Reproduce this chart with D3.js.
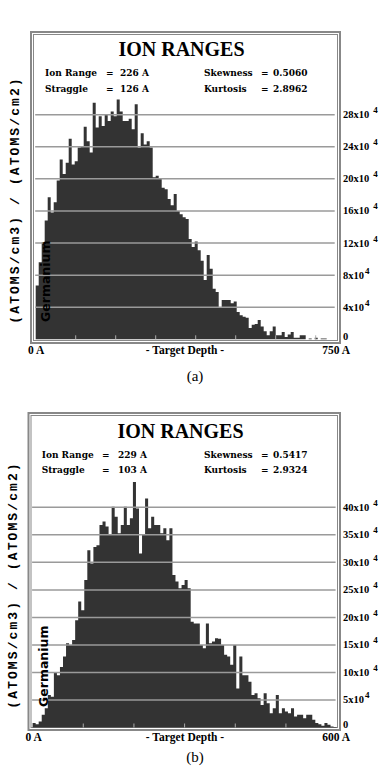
<!DOCTYPE html>
<html>
<head>
<meta charset="utf-8">
<script src="https://cdn.jsdelivr.net/npm/d3@7"></script>
<style>
  body { margin: 0; background: #fff; }
  svg { display: block; }
</style>
</head>
<body>
<div id="chart"></div>
<script>
// Ion distribution, 100 depth bins, values in units of 10^4 (ATOMS/cm3)/(ATOMS/cm2)
const countsA = [
    6.7, 9.6, 12.1, 14.8, 17.7, 15.8, 17.1, 19.8, 22.4, 20.6,
    22.0, 25.0, 21.8, 22.2, 23.9, 24.1, 26.5, 24.7, 23.3, 29.5,
    26.4, 27.8, 26.6, 28.0, 27.2, 28.4, 27.8, 29.9, 28.4, 27.2,
    27.2, 27.5, 26.2, 29.3, 23.9, 25.7, 24.3, 24.7, 23.9, 20.2,
    20.4, 20.0, 18.9, 18.7, 17.5, 16.7, 18.1, 16.0, 15.6, 15.2,
    15.0, 12.5, 11.5, 12.2, 11.1, 9.8, 7.4, 10.5, 8.8, 6.3,
    5.9, 4.0, 4.9, 4.9, 4.9, 4.5, 4.7, 3.4, 3.0, 2.8,
    2.7, 1.4, 1.8, 1.9, 2.4, 1.6, 1.0, 0.5, 1.0, 1.6,
    0.5, 0.5, 0.9, 0.3, 0.6, 0.9, 0.2, 0.2, 0.5, 0.5,
    0, 0.1, 0, 0.2, 0, 0.1, 0.1, 0, 0, 0
];
const countsB = [
    0.8, 0.6, 1.1, 2.3, 3.5, 5.9, 5.6, 10.1, 9.5, 11.0,
    12.9, 15.3, 15.0, 15.9, 19.5, 22.9, 21.3, 26.8, 32.2, 29.8,
    32.8, 33.1, 36.8, 37.4, 36.5, 35.0, 40.1, 38.3, 35.3, 36.8,
    40.1, 36.8, 38.0, 44.6, 39.8, 31.6, 35.0, 41.6, 36.2, 38.3,
    36.8, 36.8, 35.3, 36.2, 34.0, 36.2, 27.7, 26.5, 25.3, 25.9,
    26.8, 25.3, 19.2, 18.9, 18.9, 15.0, 14.4, 18.9, 15.3, 15.6,
    16.2, 16.1, 15.0, 13.2, 12.9, 11.4, 15.0, 7.1, 12.9, 9.5,
    9.5, 8.3, 5.9, 6.2, 5.3, 4.1, 6.2, 4.4, 2.6, 3.5,
    5.9, 2.6, 3.5, 2.9, 2.6, 3.5, 2.0, 2.3, 2.3, 1.7,
    2.3, 2.3, 1.4, 0.8, 0.6, 0.3, 0.8, 0.5, 0.2, 0.1
];
const levelTicksA = [0, 4, 8, 12, 16, 20, 24, 28];
const levelTicksB = [0, 5, 10, 15, 20, 25, 30, 35, 40];
const depthTicksA = [0, 100, 200, 300, 400, 500, 600, 700, 750];
const depthTicksB = [0, 100, 200, 300, 400, 500, 600];
const statNames = ["Ion Range", "Straggle"];
const statValuesA = ["226 A", "126 A"];
const statValuesB = ["229 A", "103 A"];
const momentNames = ["Skewness", "Kurtosis"];
const momentValuesA = ["0.5060", "2.8962"];
const momentValuesB = ["0.5417", "2.9324"];

var svg = d3.select("#chart")
    .append("svg")
    .attr("width", 388)
    .attr("height", 774);

function renderPanel(p) {
    var g = svg.append("g");

    // double frame
    g.append("rect")
        .attr("x", p.frame[0]).attr("y", p.frame[1])
        .attr("width", p.frame[2] - p.frame[0]).attr("height", p.frame[3] - p.frame[1])
        .attr("fill", "#fff").attr("stroke", "#888").attr("stroke-width", 2);
    g.append("rect")
        .attr("x", p.frame[0] + 2.5).attr("y", p.frame[1] + 2.5)
        .attr("width", p.frame[2] - p.frame[0] - 5).attr("height", p.frame[3] - p.frame[1] - 5)
        .attr("fill", "none").attr("stroke", "#888").attr("stroke-width", 1);

    var maxDepth = p.depthTicks[p.depthTicks.length - 1];
    var x = d3.scaleLinear().domain([0, maxDepth]).range([p.x0, p.x1]);
    var y = d3.scaleLinear().domain([0, p.levels[p.levels.length - 1]]).range([p.zeroY, p.topY]);
    var bin = maxDepth / p.counts.length;

    // Histogram as one stepped area (no seams between bars)
    var steps = p.counts.map(function (d, i) { return [i * bin, d]; });
    steps.push([maxDepth, p.counts[p.counts.length - 1]]);
    var area = d3.area()
        .curve(d3.curveStepAfter)
        .x(function (d) { return x(d[0]); })
        .y0(y(0))
        .y1(function (d) { return y(d[1]); });
    g.append("path")
        .datum(steps)
        .attr("d", area)
        .attr("fill", "#333");

    // Grid lines over the bars
    g.selectAll("line.grid")
        .data(p.levels.filter(function (v) { return v > 0; }))
        .enter()
        .append("line")
        .attr("x1", p.x0 - 0.5).attr("x2", p.x1 - 1)
        .attr("y1", function (d) { return y(d); })
        .attr("y2", function (d) { return y(d); })
        .attr("stroke", "#9a9a9a").attr("stroke-width", 1.5);

    // small depth ticks
    g.selectAll("line.dtick")
        .data(p.depthTicks.slice(1, -1))
        .enter()
        .append("line")
        .attr("x1", function (d) { return x(d); }).attr("x2", function (d) { return x(d); })
        .attr("y1", y(0)).attr("y2", y(0) - 4)
        .attr("stroke", "#aaa").attr("stroke-width", 1);

    // right tick labels
    var lab = g.selectAll("text.lvl")
        .data(p.levels)
        .enter()
        .append("text")
        .attr("x", 343)
        .attr("y", function (d) { return d === 0 ? y(d) + 0.5 : y(d) + 3.5; })
        .style("font", "bold 10.5px 'Liberation Serif', serif")
        .text(function (d) { return d === 0 ? "0" : d + "x10"; });
    lab.filter(function (d) { return d > 0; })
        .append("tspan")
        .attr("dx", function (d) { return d >= 10 ? 4 : 1; })
        .attr("dy", -5)
        .style("font-size", "9px")
        .text("4");

    // title and statistics
    g.append("text")
        .attr("x", p.titleX).attr("y", p.titleY)
        .attr("text-anchor", "middle")
        .style("font", "bold 20px 'Liberation Serif', serif")
        .text("ION RANGES");
    var statFont = "bold 9px 'DejaVu Serif', serif";
    statNames.forEach(function (name, i) {
        var yy = p.statY[i];
        g.append("text").attr("x", p.statX[0]).attr("y", yy).style("font", statFont).text(name);
        g.append("text").attr("x", p.statX[1]).attr("y", yy).style("font", statFont).text("=");
        g.append("text").attr("x", p.statX[2]).attr("y", yy).style("font", statFont).text(p.statValues[i]);
        g.append("text").attr("x", 204).attr("y", yy).style("font", statFont).text(momentNames[i]);
        g.append("text").attr("x", 261).attr("y", yy).style("font", statFont).text("=");
        g.append("text").attr("x", 273).attr("y", yy).style("font", statFont).text(p.momentValues[i]);
    });

    // bottom axis labels
    var axisFont = "bold 11.5px 'Liberation Serif', serif";
    g.append("text").attr("x", p.frame[0] - 3).attr("y", p.axisY).style("font", axisFont).text("0 A");
    g.append("text").attr("x", 185).attr("y", p.axisY).attr("text-anchor", "middle")
        .style("font", axisFont).text("- Target Depth -");
    g.append("text").attr("x", 350).attr("y", p.axisY).attr("text-anchor", "end")
        .style("font", axisFont).text(maxDepth + " A");

    // caption
    g.append("text").attr("x", 195).attr("y", p.captionY).attr("text-anchor", "middle")
        .style("font", "15px 'Liberation Serif', serif").text(p.caption);

    // Y axis label
    g.append("text")
        .attr("transform", "translate(" + p.yLabelX + "," + p.yLabelY + ") rotate(-90)")
        .attr("text-anchor", "middle")
        .style("font", "bold 13px 'Liberation Mono', monospace")
        .style("letter-spacing", "2.1px")
        .text("(ATOMS/cm3) / (ATOMS/cm2)");

    // element name inside the plot
    g.append("text")
        .attr("transform", "translate(" + p.elemX + "," + p.elemY + ") rotate(-90)")
        .style("font", "bold 12.5px 'DejaVu Sans', sans-serif")
        .attr("fill", "#000")
        .text("Germanium");
}

renderPanel({
    frame: [31, 32, 340, 343],
    x0: 35.7, x1: 335.7, zeroY: 339.3, topY: 114.7,
    counts: countsA, levels: levelTicksA, depthTicks: depthTicksA,
    statValues: statValuesA, momentValues: momentValuesA,
    titleX: 181.5, titleY: 56,
    statX: [45, 106, 120], statY: [76, 91.5],
    axisY: 354, captionY: 381, caption: "(a)",
    yLabelX: 18.5, yLabelY: 200,
    elemX: 49.5, elemY: 322
});

renderPanel({
    frame: [28.5, 413, 340, 730],
    x0: 32.6, x1: 336.6, zeroY: 727.5, topY: 507.3,
    counts: countsB, levels: levelTicksB, depthTicks: depthTicksB,
    statValues: statValuesB, momentValues: momentValuesB,
    titleX: 180.5, titleY: 437.5,
    statX: [41.7, 102, 118], statY: [458, 473],
    axisY: 741, captionY: 762, caption: "(b)",
    yLabelX: 17, yLabelY: 585,
    elemX: 48, elemY: 707
});
</script>
</body>
</html>
